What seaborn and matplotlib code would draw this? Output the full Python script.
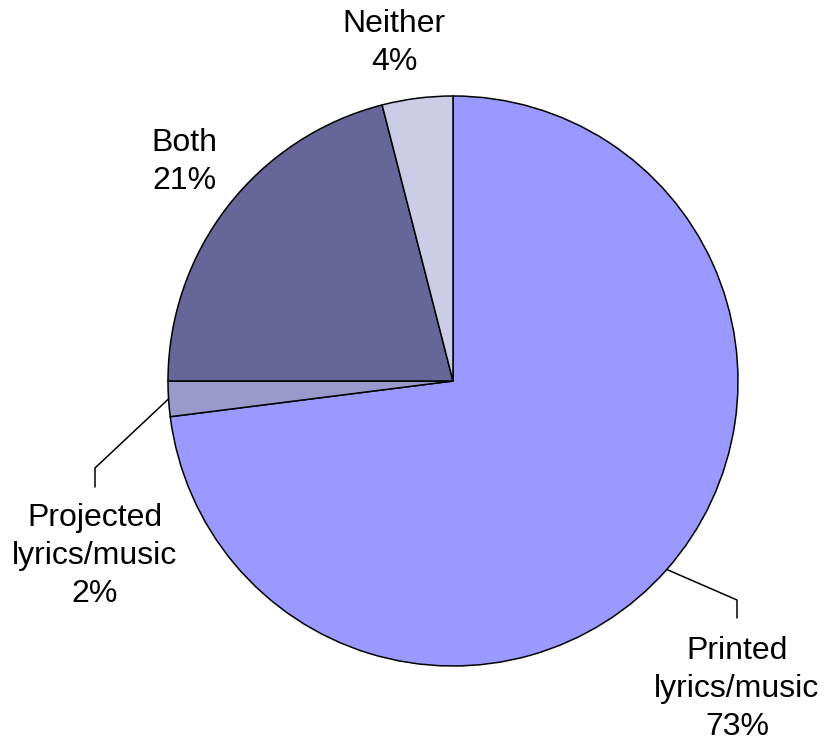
import numpy as np
import matplotlib
matplotlib.use("Agg")
import matplotlib.pyplot as plt
import seaborn as sns

categories = ["Printed\nlyrics/music", "Projected\nlyrics/music", "Both", "Neither"]
values = [73, 2, 21, 4]
colors = ["#9999FF", "#9999CC", "#666699", "#CCCCE6"]

sns.set_theme(style="white")
plt.rcParams['font.family'] = ['Liberation Sans', 'DejaVu Sans']

W, H = 825, 743
fig = plt.figure(figsize=(W / 100, H / 100), dpi=100)
ax = fig.add_axes([0, 0, 1, 1])

cx, cy, R = 453, H - 381, 285
wedges, _ = ax.pie(values, colors=colors, startangle=90, counterclock=False,
                   center=(cx, cy), radius=R,
                   wedgeprops=dict(edgecolor="black", linewidth=1.1))
ax.set_xlim(0, W)
ax.set_ylim(0, H)
ax.set_aspect('auto')
ax.axis('off')

# label layout (pixel positions, y from top)
label_pos = [(737, 689), (95, 556), (184, 162), (394, 43)]
elbows = {0: [(737, 600), (737, 618)], 1: [(95, 468), (95, 487)]}

for i, (w, lab, v) in enumerate(zip(wedges, categories, values)):
    x, y = label_pos[i]
    ax.text(x, H - y, f"{lab}\n{v}%", ha="center", va="center",
            multialignment="center", fontsize=23, color="black", linespacing=1.33)
    if i in elbows:
        mid = np.deg2rad((w.theta1 + w.theta2) / 2)
        sx, sy = cx + R * np.cos(mid), cy + R * np.sin(mid)
        pts = [(sx, sy)] + [(ex, H - ey) for ex, ey in elbows[i]]
        ax.plot([p[0] for p in pts], [p[1] for p in pts], color="black", lw=1.1)

fig.savefig("out.png", dpi=100, facecolor="white")
